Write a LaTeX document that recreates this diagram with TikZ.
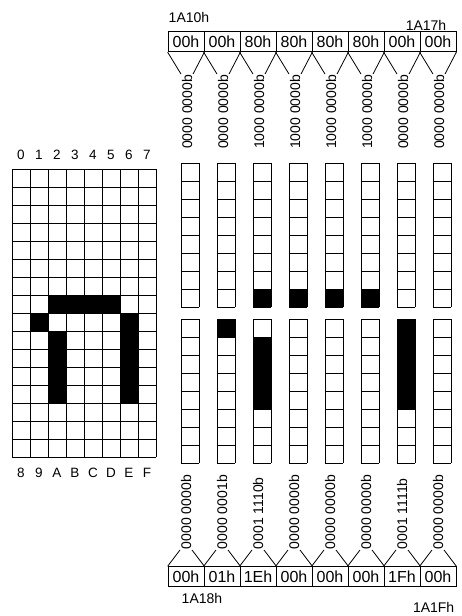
\documentclass[tikz,border=0pt]{standalone}
\usepackage{fontspec}
\setmainfont{Liberation Sans}
\begin{document}
\begin{tikzpicture}[x=1pt, y=-1pt, line width=0.8pt,
  bytebox/.style={draw, minimum width=36pt, minimum height=20pt, inner sep=0pt, font=\fontsize{16}{16}\selectfont},
  bits/.style={rotate=90, inner sep=0.5pt, font=\fontsize{14}{14}\selectfont},
  addr/.style={font=\fontsize{14}{14}\selectfont},
  idx/.style={font=\fontsize{13.5}{13.5}\selectfont}]
\useasboundingbox (0,0) rectangle (461,616);
% black pixels of the glyph (row/col)
\def\pixels{7/2,7/3,7/4,7/5,8/1,8/6,9/2,9/6,10/2,10/6,11/2,11/6,12/2,12/6}
% left 8x16 pattern
\foreach \r/\c in \pixels
  \fill (12+18*\c,169+18*\r) rectangle ++(18,18);
\foreach \i in {0,...,8}
  \draw (12+18*\i,169) -- (12+18*\i,457);
\foreach \j in {0,...,16}
  \draw (12,169+18*\j) -- (156,169+18*\j);
\foreach \c/\t in {0/0,1/1,2/2,3/3,4/4,5/5,6/6,7/7}
  \node[idx] (top\c) at (21+18*\c,155) {\t};
\foreach \c/\t in {0/8,1/9,2/A,3/B,4/C,5/D,6/E,7/F}
  \node[idx] (bot\c) at (21+18*\c,473) {\t};
% column strips
\foreach \r/\c in \pixels {
  \pgfmathsetmacro\yy{163+18*\r+12*(\r>7)}
  \fill (181+36*\c,\yy) rectangle ++(18,18);
}
\foreach \c in {0,...,7} {
  \foreach \k in {0,...,8} {
    \draw (181+36*\c,163+18*\k) -- ++(18,0);
    \draw (181+36*\c,319+18*\k) -- ++(18,0);
  }
  \draw (181+36*\c,163) -- ++(0,144) (199+36*\c,163) -- ++(0,144);
  \draw (181+36*\c,319) -- ++(0,144) (199+36*\c,319) -- ++(0,144);
}
% bytes 1A10h..1A17h
\foreach \v/\b [count=\i from 0] in {00h/0000 0000b,00h/0000 0000b,80h/1000 0000b,80h/1000 0000b,80h/1000 0000b,80h/1000 0000b,00h/0000 0000b,00h/0000 0000b} {
  \node[bytebox] (hi\i) at (186+36*\i,41.7) {\v};
  \node[bits, anchor=east] (hb\i) at (187+36*\i,74) {\b};
  \draw (hi\i.south west) -- (hb\i.north east) (hi\i.south east) -- (hb\i.south east);
}
% bytes 1A18h..1A1Fh
\foreach \v/\b [count=\i from 0] in {00h/0000 0000b,01h/0000 0001b,1Eh/0001 1110b,00h/0000 0000b,00h/0000 0000b,00h/0000 0000b,1Fh/0001 1111b,00h/0000 0000b} {
  \node[bytebox] (lo\i) at (186+36*\i,576.7) {\v};
  \node[bits, anchor=west] (lb\i) at (186+36*\i,550) {\b};
  \draw (lb\i.north west) -- (lo\i.north west) (lb\i.south west) -- (lo\i.north east);
}
\node[addr, anchor=west] (a10) at (165,17) {1A10h};
\node[addr, anchor=east] (a17) at (450,25) {1A17h};
\node[addr, anchor=west] (a18) at (178,598) {1A18h};
\node[addr, anchor=east] (a1f) at (458,607) {1A1Fh};
\end{tikzpicture}
\end{document}
